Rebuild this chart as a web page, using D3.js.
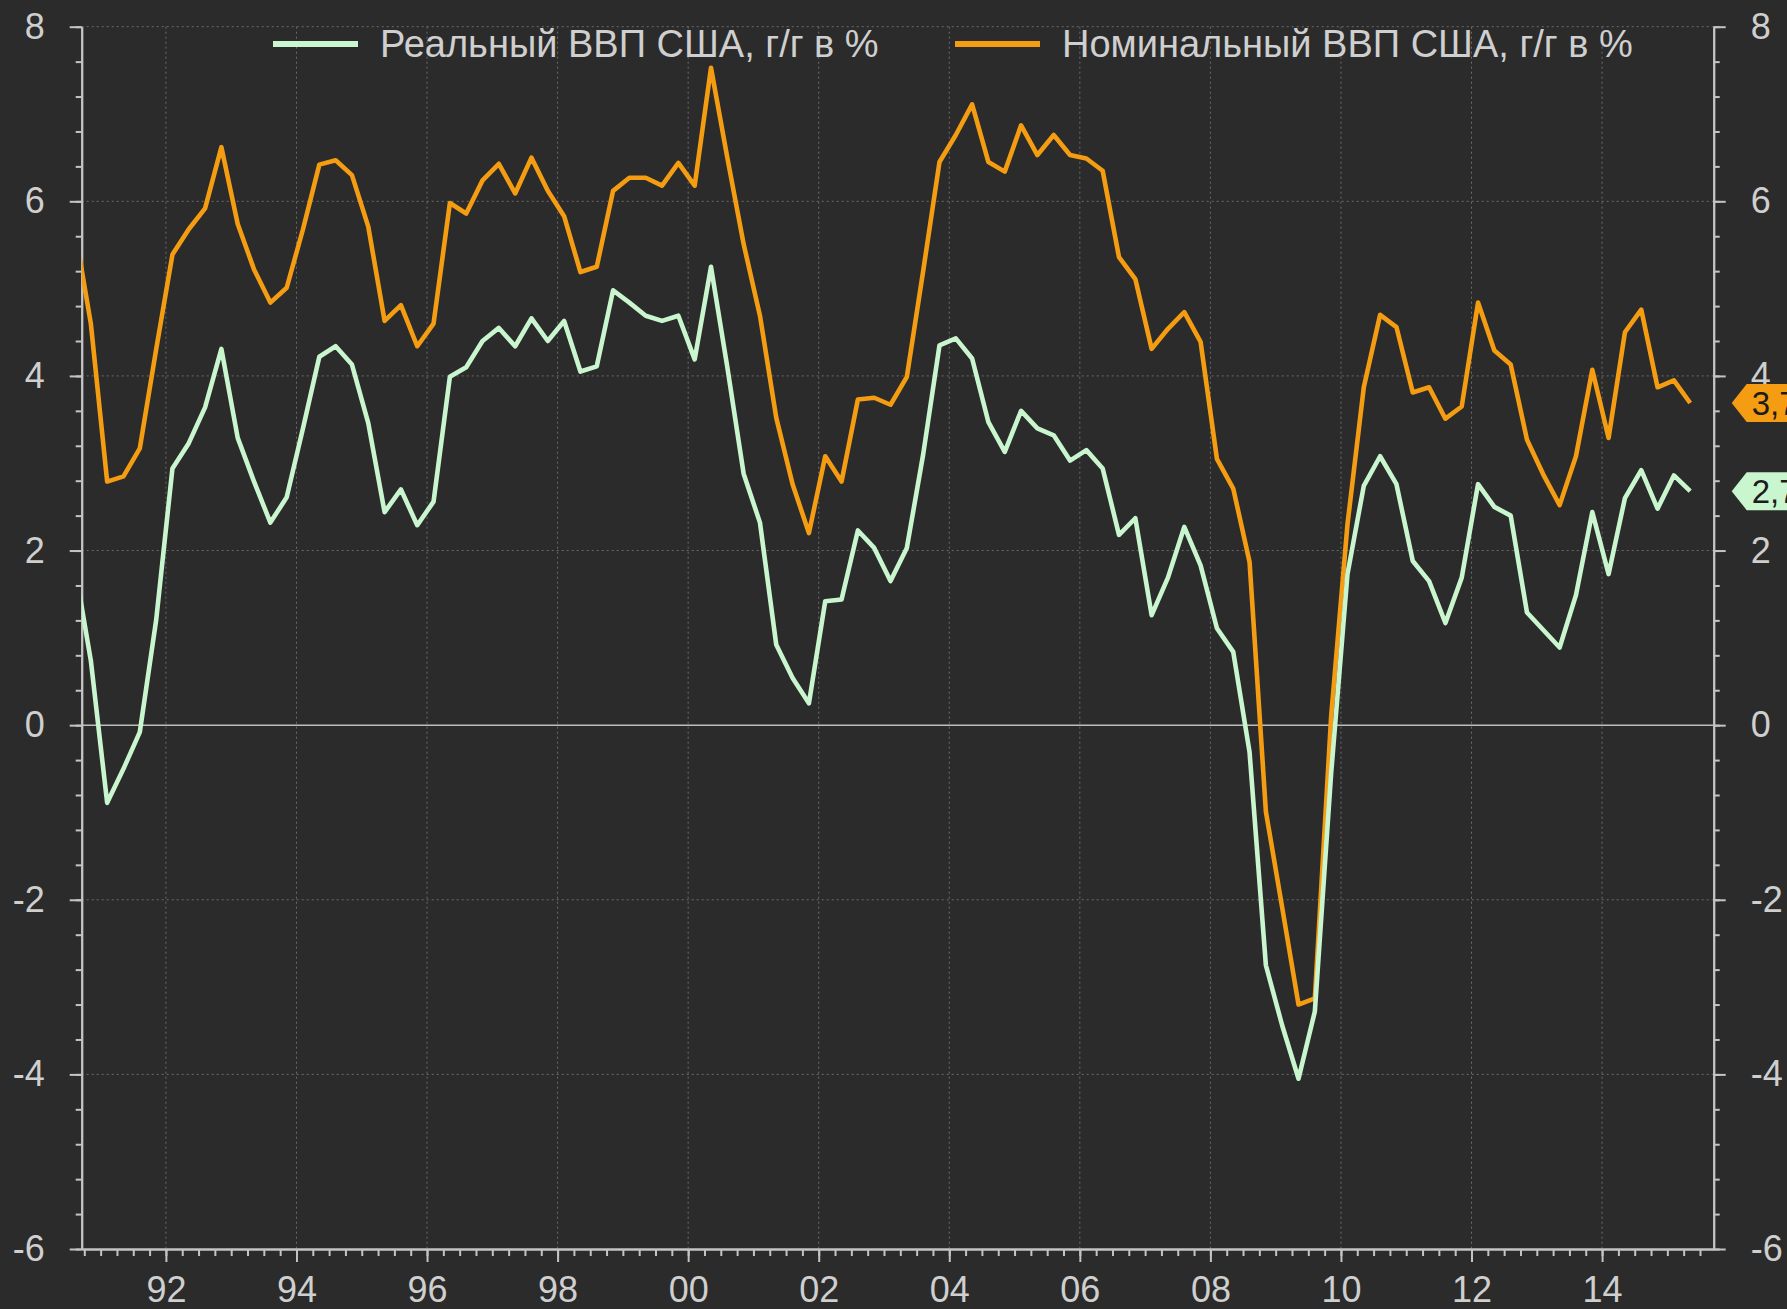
<!DOCTYPE html>
<html>
<head>
<meta charset="utf-8">
<script src="https://cdn.jsdelivr.net/npm/d3@7"></script>
<style>
  html, body { margin: 0; padding: 0; background: #2b2b2b; }
  svg { display: block; }
  text { font-family: "Liberation Sans", Arial, sans-serif; }
</style>
</head>
<body>
<svg id="chart" width="1787" height="1309"></svg>
<script>
// quarterly points, year-over-year %
const quarters = [
  "1990Q3","1990Q4",
  "1991Q1","1991Q2","1991Q3","1991Q4",
  "1992Q1","1992Q2","1992Q3","1992Q4",
  "1993Q1","1993Q2","1993Q3","1993Q4",
  "1994Q1","1994Q2","1994Q3","1994Q4",
  "1995Q1","1995Q2","1995Q3","1995Q4",
  "1996Q1","1996Q2","1996Q3","1996Q4",
  "1997Q1","1997Q2","1997Q3","1997Q4",
  "1998Q1","1998Q2","1998Q3","1998Q4",
  "1999Q1","1999Q2","1999Q3","1999Q4",
  "2000Q1","2000Q2","2000Q3","2000Q4",
  "2001Q1","2001Q2","2001Q3","2001Q4",
  "2002Q1","2002Q2","2002Q3","2002Q4",
  "2003Q1","2003Q2","2003Q3","2003Q4",
  "2004Q1","2004Q2","2004Q3","2004Q4",
  "2005Q1","2005Q2","2005Q3","2005Q4",
  "2006Q1","2006Q2","2006Q3","2006Q4",
  "2007Q1","2007Q2","2007Q3","2007Q4",
  "2008Q1","2008Q2","2008Q3","2008Q4",
  "2009Q1","2009Q2","2009Q3","2009Q4",
  "2010Q1","2010Q2","2010Q3","2010Q4",
  "2011Q1","2011Q2","2011Q3","2011Q4",
  "2012Q1","2012Q2","2012Q3","2012Q4",
  "2013Q1","2013Q2","2013Q3","2013Q4",
  "2014Q1","2014Q2","2014Q3","2014Q4",
  "2015Q1","2015Q2"
]

const realGdp = [
  1.84, 0.74,
  -0.89, -0.5, -0.08, 1.2,
  2.94, 3.23, 3.64, 4.31,
  3.29, 2.79, 2.32, 2.61,
  3.4, 4.22, 4.34, 4.13,
  3.46, 2.44, 2.70, 2.29,
  2.56, 3.99, 4.1, 4.40,
  4.55, 4.34, 4.66, 4.40,
  4.63, 4.05, 4.11, 4.98,
  4.84, 4.69, 4.63, 4.69,
  4.19, 5.25, 4.1, 2.88,
  2.32, 0.92, 0.54, 0.25,
  1.42, 1.44, 2.23, 2.03,
  1.65, 2.03, 3.1, 4.35,
  4.43, 4.2, 3.47, 3.13,
  3.60, 3.40, 3.32, 3.03,
  3.15, 2.94, 2.18, 2.37,
  1.26, 1.69, 2.27, 1.83,
  1.11, 0.84, -0.31, -2.75,
  -3.44, -4.05, -3.28, -0.55,
  1.73, 2.74, 3.08, 2.76,
  1.88, 1.65, 1.17, 1.69,
  2.76, 2.5, 2.40, 1.29,
  1.09, 0.89, 1.49, 2.44,
  1.73, 2.6, 2.92, 2.48,
  2.86, 2.68
]

const nominalGdp = [
  5.7, 4.6,
  2.79, 2.85, 3.17, 4.3,
  5.39, 5.68, 5.92, 6.62,
  5.74, 5.22, 4.84, 5.01,
  5.68, 6.42, 6.47, 6.30,
  5.71, 4.63, 4.81, 4.34,
  4.60, 5.98, 5.86, 6.24,
  6.43, 6.09, 6.5, 6.12,
  5.83, 5.19, 5.25, 6.12,
  6.27, 6.27, 6.18, 6.44,
  6.18, 7.53, 6.5, 5.51,
  4.69, 3.52, 2.76, 2.20,
  3.08, 2.79, 3.73, 3.75,
  3.67, 3.99, 5.2, 6.45,
  6.76, 7.11, 6.45, 6.34,
  6.87, 6.53, 6.76, 6.53,
  6.49, 6.35, 5.36, 5.11,
  4.31, 4.54, 4.73, 4.39,
  3.05, 2.71, 1.87, -0.99,
  -2.09, -3.2, -3.13, 0.1,
  2.3, 3.87, 4.70, 4.56,
  3.81, 3.87, 3.51, 3.65,
  4.84, 4.29, 4.13, 3.27,
  2.87, 2.52, 3.08, 4.07,
  3.29, 4.5, 4.76, 3.87,
  3.95, 3.69
]

const seriesNames = ["Реальный ВВП США, г/г в %", "Номинальный ВВП США, г/г в %"]
const seriesColors = ["#c9f5cf", "#f49d12"]
const lastLabels = ["2,7", "3,7"]

const yearTicks = d3.range(1992, 2015, 2)
const valueTicks = d3.range(-6, 9, 2)

// layout
const W = 1787, H = 1309
const plotLeft = 81.7, plotRight = 1713.7, plotTop = 26.7, plotBottom = 1249
const bg = "#2b2b2b"
const axisColor = "#c4c4c4"
const labelColor = "#cfcfcf"

const svg = d3.select('#chart')

svg.append('rect')
  .attr('width', W)
  .attr('height', H)
  .attr('fill', bg)

const qTime = q => +q.slice(0, 4) + (+q.slice(5) - 1) * 0.25 + 0.1

const x = d3.scaleLinear()
  .domain([1990.71, 2015.71])
  .range([plotLeft, plotRight])

const y = d3.scaleLinear()
  .domain([-6, 8])
  .range([plotBottom, plotTop])

// grid
const grid = svg.append('g').attr('class', 'grid')

grid.selectAll('.vgrid')
  .data(yearTicks)
  .enter()
  .append('line')
  .attr('x1', d => x(d))
  .attr('x2', d => x(d))
  .attr('y1', plotTop)
  .attr('y2', plotBottom)
  .attr('stroke', '#6c6c6c')
  .attr('stroke-width', 1)
  .attr('stroke-dasharray', '2,3')

grid.selectAll('.hgrid')
  .data(valueTicks.filter(d => d !== 0 && d !== -6))
  .enter()
  .append('line')
  .attr('x1', plotLeft)
  .attr('x2', plotRight)
  .attr('y1', d => y(d))
  .attr('y2', d => y(d))
  .attr('stroke', '#6c6c6c')
  .attr('stroke-width', 1)
  .attr('stroke-dasharray', '2,3')

grid.append('line')
  .attr('x1', plotLeft)
  .attr('x2', plotRight)
  .attr('y1', y(0))
  .attr('y2', y(0))
  .attr('stroke', '#bdbdbd')
  .attr('stroke-width', 1.5)

// axes
const minorY = d3.range(-6, 8.001, 0.4).map(d => +d.toFixed(1))
const minorX = d3.range(1990.75, 2015.6, 0.25)
const plainNum = d => String(d)

function styleAxis(g) {
  g.select('.domain').attr('stroke', axisColor).attr('stroke-width', 2)
  g.selectAll('.tick line').attr('stroke', axisColor).attr('stroke-width', 2)
  g.selectAll('.tick text')
    .attr('fill', labelColor)
    .style('font-size', '36px')
    .style('font-family', '"Liberation Sans", Arial, sans-serif')
}

svg.append('g')
  .attr('transform', `translate(${plotLeft},0)`)
  .call(d3.axisLeft(y).tickValues(minorY).tickSize(6).tickFormat('').tickSizeOuter(0))
  .call(styleAxis)

svg.append('g')
  .attr('transform', `translate(${plotLeft},0)`)
  .call(d3.axisLeft(y).tickValues(valueTicks).tickSize(12).tickPadding(25)
    .tickFormat(plainNum).tickSizeOuter(0))
  .call(styleAxis)

svg.append('g')
  .attr('transform', `translate(${plotRight},0)`)
  .call(d3.axisRight(y).tickValues(minorY).tickSize(6).tickFormat('').tickSizeOuter(0))
  .call(styleAxis)

svg.append('g')
  .attr('transform', `translate(${plotRight},0)`)
  .call(d3.axisRight(y).tickValues(valueTicks).tickSize(12).tickPadding(25)
    .tickFormat(plainNum).tickSizeOuter(0))
  .call(styleAxis)

svg.append('g')
  .attr('transform', `translate(0,${plotBottom})`)
  .call(d3.axisBottom(x).tickValues(minorX).tickSize(7).tickFormat('').tickSizeOuter(0))
  .call(styleAxis)

svg.append('g')
  .attr('transform', `translate(0,${plotBottom})`)
  .call(d3.axisBottom(x).tickValues(yearTicks).tickSize(13).tickPadding(14)
    .tickFormat(d => String(d % 100).padStart(2, '0')).tickSizeOuter(0))
  .call(styleAxis)

// lines
svg.append('clipPath')
  .attr('id', 'plot-clip')
  .append('rect')
  .attr('x', plotLeft)
  .attr('y', 0)
  .attr('width', plotRight - plotLeft)
  .attr('height', H)

const line = d3.line()
  .x(d => x(d.t))
  .y(d => y(d.v))

const series = [realGdp, nominalGdp].map((vals, i) => ({
  name: seriesNames[i],
  color: seriesColors[i],
  label: lastLabels[i],
  values: vals.map((v, j) => ({ t: qTime(quarters[j]), v: v }))
}))

svg.append('g')
    .attr('clip-path', 'url(#plot-clip)')
  .selectAll('path')
  .data(series.slice().reverse())
  .enter()
  .append('path')
  .attr('d', d => line(d.values))
  .attr('fill', 'none')
  .attr('stroke', d => d.color)
  .attr('stroke-width', 4.6)
  .attr('stroke-linejoin', 'round')

// legend
const legend = svg.append('g').attr('class', 'legend')
const legendX = [273, 955]

series.forEach((s, i) => {
  legend.append('line')
    .attr('x1', legendX[i])
    .attr('x2', legendX[i] + 85)
    .attr('y1', 44)
    .attr('y2', 44)
    .attr('stroke', s.color)
    .attr('stroke-width', 6)
  legend.append('text')
    .attr('x', legendX[i] + 107)
    .attr('y', 44)
    .attr('dy', '0.35em')
    .attr('fill', labelColor)
    .style('font-size', '38px')
    .text(s.name)
})

// last value tags on the right axis
const tags = svg.append('g').attr('class', 'tags')

series.forEach(s => {
  const last = s.values[s.values.length - 1]
  const ty = y(last.v)
  const tx = plotRight + 18
  tags.append('path')
    .attr('d', `M${tx},${ty} L${tx + 15},${ty - 19} L${W + 5},${ty - 19} L${W + 5},${ty + 19} L${tx + 15},${ty + 19} Z`)
    .attr('fill', s.color)
  tags.append('text')
    .attr('x', tx + 20)
    .attr('y', ty)
    .attr('dy', '0.36em')
    .attr('fill', '#1c1c1c')
    .style('font-size', '33px')
    .text(s.label)
})
</script>
</body>
</html>
